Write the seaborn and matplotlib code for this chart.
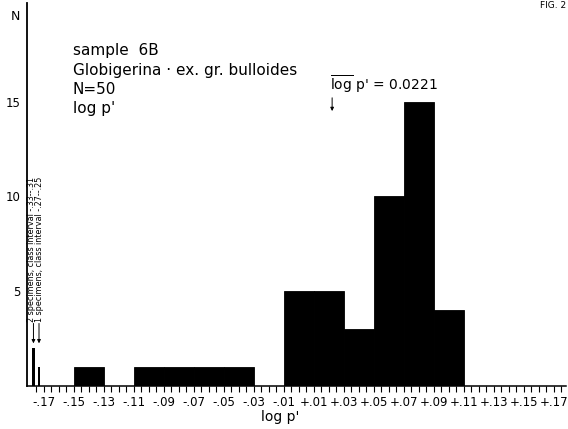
import numpy as np
import pandas as pd
import matplotlib
matplotlib.use("Agg")
import matplotlib.pyplot as plt
import seaborn as sns

# ---- data ----
class_mid = [-0.14, -0.10, -0.08, -0.06, -0.04, 0.00, 0.02, 0.04, 0.06, 0.08, 0.10]
class_count = [1, 1, 1, 1, 1, 5, 5, 3, 10, 15, 4]
outlier_counts = [2, 1]
outlier_labels = ["2 specimens, class interval -.33--.31",
                  "1 specimens, class interval -.27--.25"]
tick_values = [-0.17, -0.15, -0.13, -0.11, -0.09, -0.07, -0.05, -0.03, -0.01,
               0.01, 0.03, 0.05, 0.07, 0.09, 0.11, 0.13, 0.15, 0.17]
tick_labels = ["-.17", "-.15", "-.13", "-.11", "-.09", "-.07", "-.05", "-.03", "-.01",
               "+.01", "+.03", "+.05", "+.07", "+.09", "+.11", "+.13", "+.15", "+.17"]
mean_log_p = 0.0221
sample_lines = ["sample  6B", "Globigerina · ex. gr. bulloides", "N=50", "log p'"]

df = pd.DataFrame({"logp": class_mid, "n": class_count})

sns.set_style("ticks")
plt.rcParams["font.family"] = ["DejaVu Sans"]
for k in ["text.color", "axes.labelcolor", "xtick.color", "ytick.color", "axes.edgecolor"]:
    plt.rcParams[k] = "black"

W, H = 568, 429
fig = plt.figure(figsize=(W / 100, H / 100), dpi=100)
ax = fig.add_axes([27 / W, (H - 386) / H, (566 - 27) / W, (386 - 3) / H])

sns.histplot(data=df, x="logp", weights="n", binwidth=0.02, binrange=(-0.15, 0.11),
             color="black", alpha=1, edgecolor="black", linewidth=0.6, ax=ax)

# out-of-range classes drawn as thin spikes near the axis
spike_x = [-0.1770, -0.1733]
text_x = [-0.1783, -0.1733]
ax.bar(spike_x, outlier_counts, width=0.0019, color="black", linewidth=0)
for sx, tx, lab in zip(spike_x, text_x, outlier_labels):
    ax.annotate("", xy=(sx, 2.25), xytext=(sx, 3.3),
                arrowprops=dict(arrowstyle="-|>", lw=0.7, color="black",
                                mutation_scale=5, shrinkA=0, shrinkB=0))
    ax.text(tx, 3.35, lab, rotation=90, ha="center", va="bottom",
            fontsize=5.8, color="black")

ax.set_xlim(-0.1813, 0.178)
ax.set_ylim(0, 20.2)
ax.set_xticks(tick_values)
ax.set_xticklabels(tick_labels, fontsize=8.5)
ax.set_xticks(np.round(np.arange(-0.175, 0.1751, 0.005), 3), minor=True)
ax.tick_params(axis="x", which="both", direction="out", length=4, width=0.8,
               pad=3, color="black")
ax.set_yticks([5, 10, 15])
ax.set_yticklabels(["5", "10", "15"], fontsize=8.5)
ax.tick_params(axis="y", length=0, pad=5)
ax.set_ylabel("")
ax.set_xlabel("log p'", fontsize=10)
ax.xaxis.set_label_coords((280 - 27) / 539, -0.062)

for s in ["top", "right"]:
    ax.spines[s].set_visible(False)
ax.spines["left"].set_linewidth(1.3)
ax.spines["bottom"].set_linewidth(1.1)

# mean marker
ax.annotate("", xy=(mean_log_p, 14.5), xytext=(mean_log_p, 15.2),
            arrowprops=dict(arrowstyle="-|>", lw=0.7, color="black",
                            mutation_scale=5, shrinkA=0, shrinkB=0))
fig.text(330 / W, 1 - 85 / H, r"$\overline{\mathregular{log}}$ p' = 0.0221",
         fontsize=10, ha="left", va="center")

# sample text block
for i, line in enumerate(sample_lines):
    fig.text(73 / W, 1 - (51 + i * 19) / H, line, fontsize=11, ha="left", va="center")

fig.text(15 / W, 1 - 16 / H, "N", fontsize=9, ha="center", va="center")
fig.text(566 / W, 1 - 1 / H, "FIG. 2", fontsize=6.5, ha="right", va="top")

fig.savefig("out.png", dpi=100, facecolor="white")
